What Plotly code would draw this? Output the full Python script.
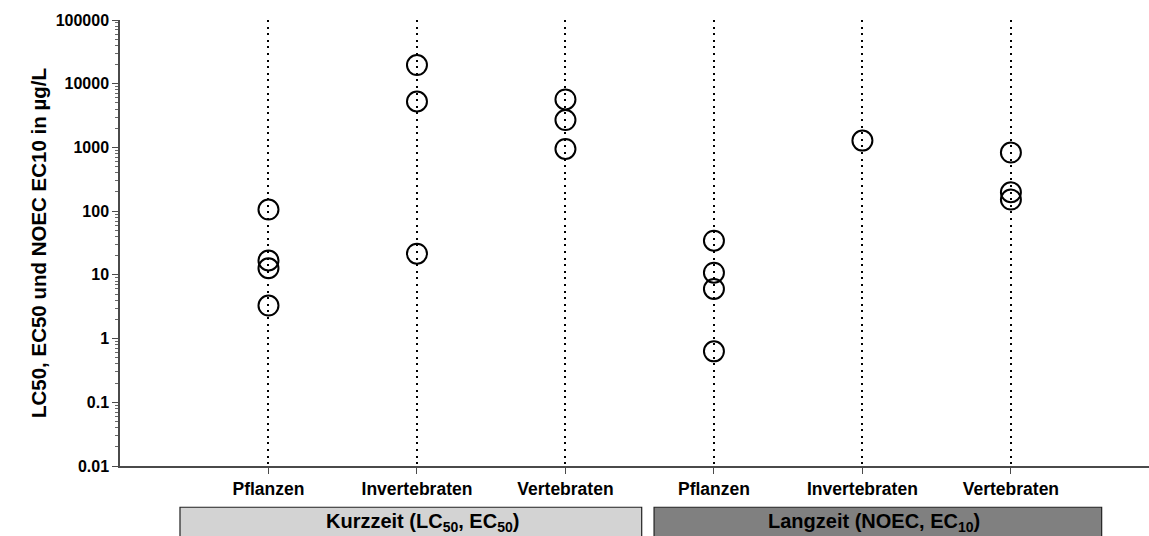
import plotly.graph_objects as go

# Toxicity endpoints (µg/L) per test duration and organism group
groups = ["Kurzzeit", "Langzeit"]
taxa = ["Pflanzen", "Invertebraten", "Vertebraten"]

kurz_pflanzen = [106, 16.8, 12.7, 3.3]
kurz_invertebraten = [19600, 5260, 21.5]
kurz_vertebraten = [5660, 2690, 947]

lang_pflanzen = [34.4, 10.8, 6.0, 0.63]
lang_invertebraten = [1280]
lang_vertebraten = [832, 198, 152]

series = [
    kurz_pflanzen, kurz_invertebraten, kurz_vertebraten,
    lang_pflanzen, lang_invertebraten, lang_vertebraten,
]
tick_labels = taxa + taxa
y_tick_values = [0.01, 0.1, 1, 10, 100, 1000, 10000, 100000]
y_tick_text = ["0.01", "0.1", "1", "10", "100", "1000", "10000", "100000"]

FONT = "Arial, Liberation Sans, sans-serif"
AXIS_COLOR = "#4a4a4a"

fig = go.Figure()

for i, vals in enumerate(series):
    fig.add_trace(go.Scatter(
        x=[i + 1] * len(vals),
        y=vals,
        mode="markers",
        marker=dict(symbol="circle-open", size=20, color="black",
                    line=dict(width=2, color="black")),
        showlegend=False,
        hoverinfo="y",
    ))

minor_vals = [m * 10 ** e for e in range(-2, 5) for m in range(2, 10)]

fig.update_layout(
    width=1149, height=536,
    margin=dict(l=120, r=0, t=20, b=70),
    plot_bgcolor="white", paper_bgcolor="white",
    font=dict(family=FONT, size=13, color="black"),
    xaxis=dict(
        range=[0, 6.93],
        tickmode="array",
        tickvals=list(range(1, len(tick_labels) + 1)),
        ticktext=tick_labels,
        tickfont=dict(family=FONT, size=17.5, color="black", weight="bold"),
        ticks="outside", ticklen=6, tickwidth=1, tickcolor=AXIS_COLOR,
        showline=True, linecolor=AXIS_COLOR, linewidth=1.5,
        showgrid=True, gridcolor="black", gridwidth=2, griddash="2px,4.6px",
        zeroline=False, fixedrange=True,
    ),
    yaxis=dict(
        type="log",
        range=[-2, 5],
        tickmode="array",
        tickvals=y_tick_values,
        ticktext=y_tick_text,
        tickfont=dict(family=FONT, size=16, color="black", weight="bold"),
        ticks="outside", ticklen=6, tickwidth=1, tickcolor=AXIS_COLOR,
        minor=dict(tickmode="array", tickvals=minor_vals, ticks="outside",
                   ticklen=3, tickwidth=1, tickcolor="#666666", showgrid=False),
        showline=True, linecolor=AXIS_COLOR, linewidth=1.5,
        showgrid=False, zeroline=False,
        title=dict(text="LC50, EC50 und NOEC EC10 in µg/L",
                   font=dict(family=FONT, size=20.5, color="black", weight="bold"),
                   standoff=3),
    ),
)

# Duration group boxes below the category labels
boxes = [
    dict(x0=0.0583, x1=0.507, fill="#d3d3d3",
         text="Kurzzeit (LC<sub>50</sub>, EC<sub>50</sub>)", xc=0.294),
    dict(x0=0.519, x1=0.954, fill="#808080",
         text="Langzeit (NOEC, EC<sub>10</sub>)", xc=0.733),
]
for b in boxes:
    fig.add_shape(type="rect", xref="paper", yref="paper",
                  x0=b["x0"], x1=b["x1"], y0=-0.175, y1=-0.0925,
                  fillcolor=b["fill"], line=dict(color="#222222", width=1.2),
                  layer="above")
    fig.add_annotation(xref="paper", yref="paper", x=b["xc"], y=-0.127,
                       text="<b>" + b["text"] + "</b>", showarrow=False,
                       font=dict(family=FONT, size=20, color="black"),
                       xanchor="center", yanchor="middle")

fig.write_html("out.html")
